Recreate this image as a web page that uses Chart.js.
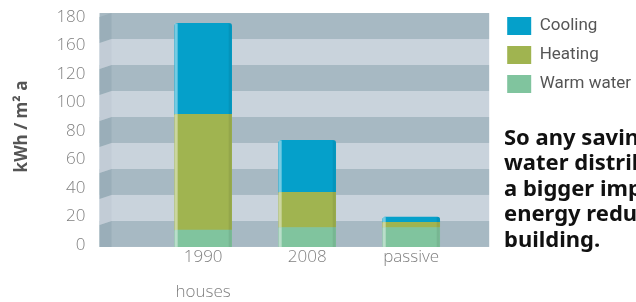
<!DOCTYPE html>
<html><head><meta charset="utf-8">
<script src="https://cdn.jsdelivr.net/npm/chart.js@4.4.1/dist/chart.umd.min.js"></script>
<style>
html,body{margin:0;padding:0;background:#fff;overflow:hidden;width:636px;height:302px;}
#wrap{position:absolute;left:0;top:0;width:700px;height:302px;}
#note{position:absolute;left:504px;top:124px;font-family:"Noto Sans",sans-serif;font-weight:bold;font-size:22px;line-height:25.4px;color:#111;white-space:nowrap;}
</style></head><body>
<div id="wrap"><canvas id="c" width="700" height="302"></canvas></div>
<div id="note">So any savings in warm<br>water distribution have<br>a bigger impact on total<br>energy reduction of the<br>building.</div>
<script>
const categories = ['1990', '2008', 'passive'];
const categoryNote = ['houses', '', ''];
const warmWater = [13, 15, 15];
const heating = [89, 27, 4];
const cooling = [70, 40, 4];
const yTickLabels = ['0', '20', '40', '60', '80', '100', '120', '160', '180'];
const bandValues = [0, 20, 40, 60, 80, 100, 120, 140, 160, 180];

const bandPlugin = {
  id: 'bands',
  beforeDatasetsDraw(chart) {
    const {ctx, chartArea: a, scales: {y}} = chart;
    const left = a.left + 14, right = a.right - 7;
    const y0 = y.getPixelForValue(0);
    ctx.save();
    for (let i = 0; i < bandValues.length - 1; i++) {
      const yb = y.getPixelForValue(bandValues[i]);
      const yt = y.getPixelForValue(bandValues[i + 1]);
      ctx.fillStyle = i % 2 === 0 ? '#a7b9c3' : '#c9d3dc';
      ctx.fillRect(left, yt, right - left, yb - yt);
      ctx.fillStyle = i % 2 === 0 ? '#9aaeb9' : '#c2ccd6';
      ctx.beginPath();
      ctx.moveTo(left, Math.min(yt + 4, yb));
      ctx.lineTo(left + 12, yt);
      ctx.lineTo(left + 12, yb);
      ctx.lineTo(left, Math.min(yb + 4, y0));
      ctx.closePath();
      ctx.fill();
    }
    ctx.restore();
  }
};

const barShade = {
  id: 'barShade',
  afterDatasetsDraw(chart) {
    const {ctx} = chart;
    ctx.save();
    chart.data.datasets.forEach((ds, di) => {
      chart.getDatasetMeta(di).data.forEach(el => {
        const l = el.x - el.width / 2;
        const top = Math.min(el.y, el.base), h = Math.abs(el.base - el.y);
        ctx.fillStyle = 'rgba(255,255,255,0.45)';
        ctx.fillRect(l, top, 3, h);
        ctx.fillStyle = 'rgba(0,0,0,0.07)';
        ctx.fillRect(l + el.width - 3, top, 3, h);
      });
    });
    ctx.restore();
  }
};

const pts = arr => arr.map((v, i) => ({x: i + 1, y: v}));

new Chart(document.getElementById('c'), {
  type: 'bar',
  data: {
    datasets: [
      {label: 'Warm water', data: pts(warmWater), backgroundColor: '#80c49e'},
      {label: 'Heating', data: pts(heating), backgroundColor: '#a0b450'},
      {label: 'Cooling', data: pts(cooling), backgroundColor: '#05a0ca', borderRadius: {topLeft: 3, topRight: 3}}
    ]
  },
  options: {
    responsive: false,
    animation: false,
    devicePixelRatio: 1,
    layout: {padding: {left: 0, top: 6, right: 59, bottom: -1}},
    datasets: {bar: {barThickness: 57, borderWidth: 0}},
    plugins: {
      legend: {
        position: 'right', align: 'start', reverse: true, fullSize: false,
        labels: {boxWidth: 24, boxHeight: 18, padding: 11, color: '#555', font: {family: 'Roboto', size: 17}}
      },
      tooltip: {enabled: false}
    },
    scales: {
      x: {
        type: 'linear', stacked: true, offset: false, min: -0.131, max: 3.817,
        grid: {display: false, drawTicks: false}, border: {display: false},
        afterBuildTicks: s => { s.ticks = categories.map((_, i) => ({value: i + 1})); },
        ticks: {
          autoSkip: false, maxRotation: 0, padding: -7, color: '#808080',
          font: {family: 'Open Sans', weight: 300, size: 17, lineHeight: 2.06},
          callback: v => { const i = Math.round(v) - 1; return categoryNote[i] ? [categories[i], categoryNote[i]] : categories[i]; }
        }
      },
      y: {stacked: true, display: false, min: 0, max: 185.4},
      yl: {
        type: 'linear', position: 'left', min: -0.07, max: 8.386,
        grid: {display: false, drawTicks: false}, border: {display: false},
        afterBuildTicks: s => { s.ticks = yTickLabels.map((_, i) => ({value: i})); },
        ticks: {
          padding: 0, color: '#808080',
          font: {family: 'Open Sans', weight: 300, size: 17, lineHeight: 0.7},
          callback: v => yTickLabels[Math.round(v)]
        },
        title: {display: true, text: 'kWh / m² a', color: '#555', font: {family: 'Open Sans', weight: 'bold', size: 17}, padding: {top: 12, bottom: 24}}
      }
    }
  },
  plugins: [bandPlugin, barShade]
});
</script>
</body></html>
